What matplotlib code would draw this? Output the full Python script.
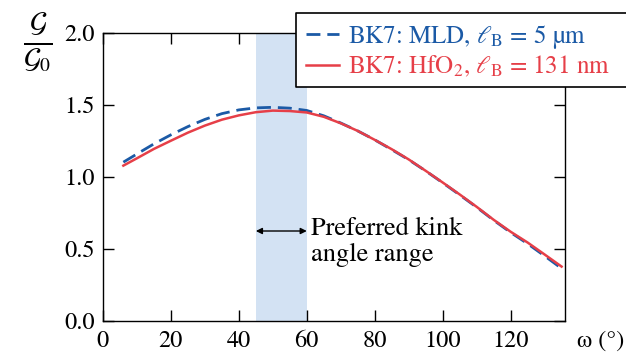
import numpy as np
import matplotlib
matplotlib.use("Agg")
import matplotlib.pyplot as plt
from matplotlib.patches import Rectangle

plt.rcParams["font.family"] = ["STIXGeneral", "DejaVu Serif"]
plt.rcParams["mathtext.fontset"] = "stix"

# kink angle (deg) and normalised energy release rate
omega = [6, 10, 15, 20, 25, 30, 35, 40, 45, 50, 55, 60, 65, 70, 75, 80,
         85, 90, 95, 100, 105, 110, 115, 120, 125, 130, 135]
g_mld = [1.103, 1.16, 1.23, 1.293, 1.35, 1.40, 1.44, 1.466, 1.480, 1.484, 1.478, 1.462,
         1.425, 1.375, 1.32, 1.258, 1.19, 1.12, 1.042, 0.96, 0.876, 0.790, 0.700,
         0.615, 0.537, 0.452, 0.365]
g_hfo2 = [1.079, 1.13, 1.195, 1.252, 1.308, 1.357, 1.398, 1.428, 1.450, 1.461, 1.458, 1.448,
          1.418, 1.373, 1.32, 1.258, 1.193, 1.122, 1.043, 0.962, 0.879, 0.793, 0.703,
          0.620, 0.545, 0.462, 0.378]
kink_range = (45, 60)

fig = plt.figure(figsize=(6.26, 3.54), dpi=100)
ax = fig.add_axes([0.1645, 0.0932, 0.738, 0.8136])

ax.axvspan(*kink_range, color="#d3e2f3", lw=0, zorder=0)
ax.plot(omega, g_mld, color="#1b5aa6", lw=2.0, ls=(0, (5, 2.5)),
        label=r"BK7: MLD, $\ell_{\mathrm{B}}$ = 5 µm")
ax.plot(omega, g_hfo2, color="#e63f48", lw=1.8,
        label=r"BK7: HfO$_2$, $\ell_{\mathrm{B}}$ = 131 nm")

ax.set_xlim(0, 136)
ax.set_ylim(0, 2.0)
ax.set_xticks([0, 20, 40, 60, 80, 100, 120])
ax.set_yticks([0.0, 0.5, 1.0, 1.5, 2.0])
ax.set_yticklabels(["0.0", "0.5", "1.0", "1.5", "2.0"])
ax.tick_params(direction="in", length=8, width=1.0, labelsize=17.5,
               top=True, right=True)
ax.tick_params(axis="x", pad=7)
ax.tick_params(axis="y", pad=6)
for s in ax.spines.values():
    s.set_linewidth(1.0)

ax.annotate("", xy=(kink_range[0], 0.625), xytext=(kink_range[1], 0.625),
            arrowprops=dict(arrowstyle="<|-|>", color="black", lw=1.0,
                            mutation_scale=9, shrinkA=0, shrinkB=0))
ax.text(61.2, 0.72, "Preferred kink\nangle range", fontsize=19,
        va="top", ha="left", linespacing=1.1)

fig.text(0.998, 0.036, "ω (°)", fontsize=17.5, ha="right", va="center")
fig.text(0.06, 0.878, r"$\frac{\mathcal{G}}{\mathcal{G}_0}$", fontsize=29,
         ha="center", va="center")

# legend box runs off the right edge of the figure, as in the original:
# white fill plus a frame with no right side, then a frameless legend on top
x0, y0, y1 = 296 / 626, 1 - 87 / 354, 1 - 13 / 354
ax.add_patch(Rectangle((x0, y0), 1.0 - x0, y1 - y0, transform=fig.transFigure,
                       facecolor="white", edgecolor="none", zorder=5, clip_on=False))
ax.plot([1.0, x0, x0, 1.0], [y1, y1, y0, y0], color="black", lw=1.2,
        transform=fig.transFigure, clip_on=False, zorder=5.5)
leg = ax.legend(handles=ax.get_lines()[:2], loc="upper left",
                bbox_to_anchor=(x0, y1), bbox_transform=fig.transFigure,
                fontsize=18, frameon=False, handlelength=1.3, handletextpad=0.4,
                labelspacing=0.12, borderpad=0.4, borderaxespad=0)
leg.set_zorder(6)
for txt, line in zip(leg.get_texts(), leg.get_lines()):
    txt.set_color(line.get_color())

fig.savefig("out.png", dpi=100)
